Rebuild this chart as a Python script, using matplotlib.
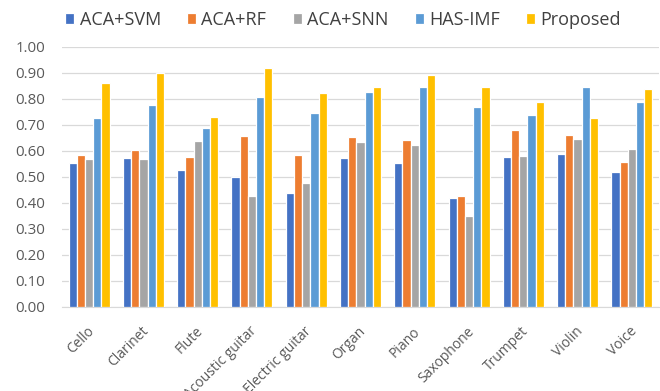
import numpy as np
import matplotlib
matplotlib.use("Agg")
import matplotlib.pyplot as plt
from matplotlib.transforms import ScaledTranslation

categories = ["Cello", "Clarinet", "Flute", "Acoustic guitar", "Electric guitar",
              "Organ", "Piano", "Saxophone", "Trumpet", "Violin", "Voice"]
series_names = ["ACA+SVM", "ACA+RF", "ACA+SNN", "HAS-IMF", "Proposed"]
aca_svm = [0.552, 0.574, 0.526, 0.500, 0.437, 0.572, 0.553, 0.418, 0.577, 0.587, 0.521]
aca_rf = [0.586, 0.604, 0.577, 0.658, 0.586, 0.654, 0.644, 0.428, 0.679, 0.660, 0.557]
aca_snn = [0.569, 0.569, 0.637, 0.428, 0.478, 0.633, 0.622, 0.350, 0.580, 0.646, 0.608]
has_imf = [0.728, 0.778, 0.687, 0.808, 0.747, 0.828, 0.846, 0.768, 0.738, 0.846, 0.787]
proposed = [0.860, 0.901, 0.731, 0.918, 0.822, 0.845, 0.892, 0.846, 0.790, 0.728, 0.837]
y_ticks = [0.0, 0.1, 0.2, 0.3, 0.4, 0.5, 0.6, 0.7, 0.8, 0.9, 1.0]

colors = ["#4472C4", "#ED7D31", "#A5A5A5", "#5B9BD5", "#FFC000"]
plt.rcParams["font.family"] = ["Open Sans", "DejaVu Sans"]

fig = plt.figure(figsize=(6.6, 3.91), dpi=100)
ax = fig.add_axes([62 / 660, 1 - 307 / 391, 597 / 660, 260 / 391])

x = np.arange(len(categories))
data = [aca_svm, aca_rf, aca_snn, has_imf, proposed]
slot = 0.151
for i, (name, vals) in enumerate(zip(series_names, data)):
    ax.bar(x + (i - 2) * slot, vals, width=slot, color=colors[i],
           edgecolor="white", linewidth=0.9, label=name, zorder=3)

ax.set_xlim(-0.5, len(categories) - 0.5)
ax.set_ylim(0, 1.0)
ax.set_yticks(y_ticks)
ax.set_yticklabels([f"{v:.2f}" for v in y_ticks], fontsize=10.8, color="#595959")
ax.yaxis.grid(True, color="#D9D9D9", linewidth=0.9, zorder=0)
ax.tick_params(axis="y", length=0, pad=12)
ax.tick_params(axis="x", length=0, pad=16)
ax.set_xticks(x)
ax.set_xticklabels(categories, rotation=45, ha="right", va="center",
                   rotation_mode="anchor", fontsize=10, color="#595959")
shift = ScaledTranslation(3 / 100, 0, fig.dpi_scale_trans)
for lbl in ax.get_xticklabels():
    lbl.set_transform(lbl.get_transform() + shift)
for s in ["top", "right", "left"]:
    ax.spines[s].set_visible(False)
ax.spines["bottom"].set_color("#D9D9D9")

fig.legend(loc="center", bbox_to_anchor=(343 / 660, 1 - 20 / 391), ncol=5,
           frameon=False, fontsize=13, handlelength=0.5, handleheight=0.5,
           handletextpad=0.3, columnspacing=1.45, labelcolor="#404040")

fig.savefig("out.png", dpi=100)
